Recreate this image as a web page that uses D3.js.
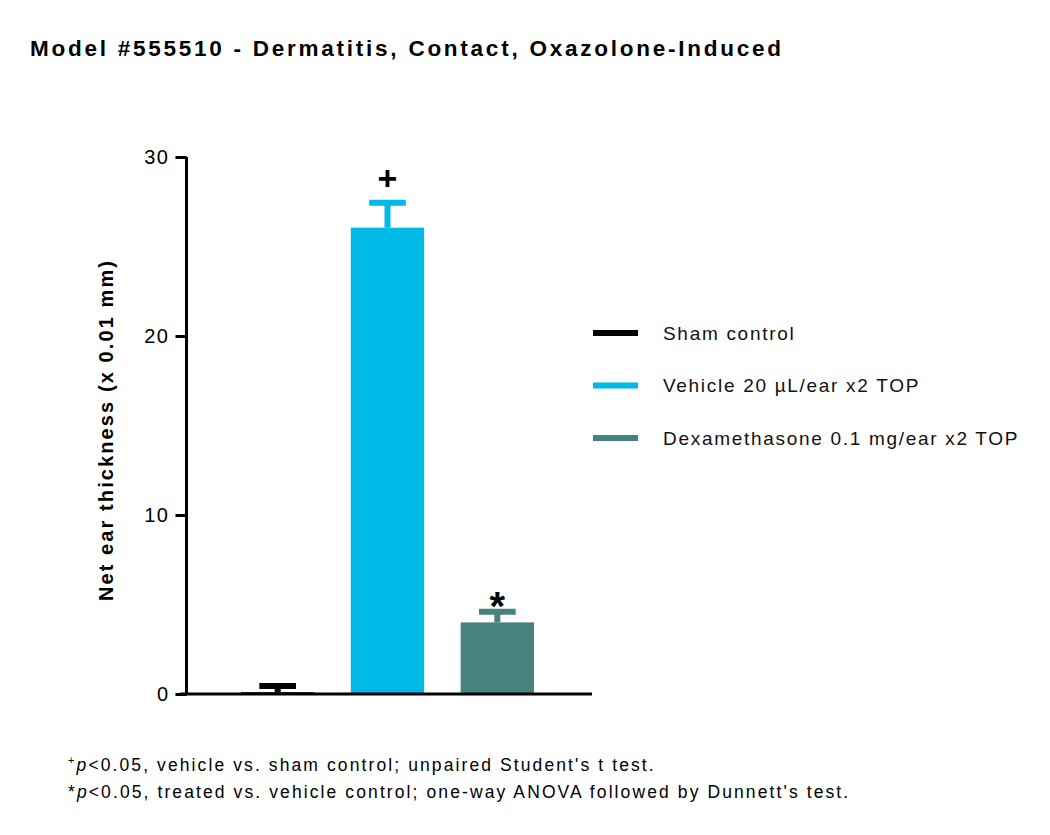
<!DOCTYPE html>
<html><head><meta charset="utf-8">
<script src="https://cdn.jsdelivr.net/npm/d3@7/dist/d3.min.js"></script>
<style>body{margin:0;background:#fff}svg{display:block}</style>
</head><body>
<svg id="chart" width="1050" height="835"></svg>
<script>
const categories = ["Sham control", "Vehicle 20 \u00b5L/ear x2 TOP", "Dexamethasone 0.1 mg/ear x2 TOP"];
const means = [0.1, 26.05, 4.0];
const sems = [0.35, 1.4, 0.6];
const colors = ["#000000", "#00b9e7", "#46827e"];
const markers = ["", "+", "*"];
const yTicks = [0, 10, 20, 30];

const svg = d3.select("#chart");
const font = "'Liberation Sans', Arial, Helvetica, sans-serif";

svg.append("text").attr("x", 30).attr("y", 56)
  .attr("font-family", font).attr("font-weight", "bold").attr("font-size", 22.5)
  .attr("letter-spacing", 2.75)
  .text("Model #555510 - Dermatitis, Contact, Oxazolone-Induced");

const x = d3.scaleBand().domain(categories).range([241, 534]).paddingInner(0.332).paddingOuter(0);
const y = d3.scaleLinear().domain([0, 30]).range([694, 157]);

// bars
svg.selectAll("rect.bar").data(categories).enter().append("rect")
  .attr("x", d => x(d)).attr("width", x.bandwidth())
  .attr("y", (d, i) => y(means[i])).attr("height", (d, i) => y(0) - y(means[i]))
  .attr("fill", (d, i) => colors[i]);

// error bars (up only)
categories.forEach((c, i) => {
  const cx = x(c) + x.bandwidth() / 2;
  const top = y(means[i] + sems[i]);
  svg.append("line").attr("x1", cx).attr("x2", cx).attr("y1", y(means[i])).attr("y2", top)
    .attr("stroke", colors[i]).attr("stroke-width", 6);
  svg.append("line").attr("x1", cx - x.bandwidth() / 4).attr("x2", cx + x.bandwidth() / 4)
    .attr("y1", top).attr("y2", top).attr("stroke", colors[i]).attr("stroke-width", 6);
  if (markers[i] === "+") {
    svg.append("text").attr("x", cx).attr("y", top - 13)
      .attr("text-anchor", "middle").attr("font-family", font).attr("font-weight", "bold")
      .attr("font-size", 34).text(markers[i]);
  } else if (markers[i] === "*") {
    svg.append("text").attr("x", cx).attr("y", top + 8)
      .attr("text-anchor", "middle").attr("font-family", font).attr("font-weight", "bold")
      .attr("font-size", 40).text(markers[i]);
  }
});

// y axis
const yAxis = d3.axisLeft(y).tickValues(yTicks).tickSize(11).tickPadding(6).tickFormat(d3.format("d"));
const gy = svg.append("g").attr("transform", "translate(186.5,0)").call(yAxis);
gy.select(".domain").attr("stroke-width", 3).attr("d", `M0,${y(30)}V${y(0)}`);
gy.selectAll(".tick line").attr("stroke-width", 3);
gy.selectAll(".tick text").attr("font-family", font).attr("font-size", 20).attr("fill", "#000")
  .attr("dy", "0.34em").attr("letter-spacing", 1.5);

// x axis
const gx = svg.append("g").attr("transform", `translate(0,${y(0)})`)
  .call(d3.axisBottom(x).tickSize(0).tickFormat(""));
gx.select(".domain").attr("stroke-width", 3).attr("d", "M180,0H592");

// y label
svg.append("text").attr("transform", "translate(113,430) rotate(-90)")
  .attr("text-anchor", "middle").attr("font-family", font).attr("font-weight", "bold")
  .attr("font-size", 20).attr("letter-spacing", 2.1).text("Net ear thickness (x 0.01 mm)");

// legend
const leg = svg.append("g");
categories.forEach((c, i) => {
  const ly = 333 + i * 52.5;
  leg.append("line").attr("x1", 593).attr("x2", 638).attr("y1", ly).attr("y2", ly)
    .attr("stroke", colors[i]).attr("stroke-width", 6);
  leg.append("text").attr("x", 663).attr("y", ly).attr("dy", "0.35em")
    .attr("font-family", font).attr("font-size", 19).attr("fill", "#111")
    .attr("letter-spacing", 1.7).text(c);
});

// footnotes
const f1 = svg.append("text").attr("x", 68).attr("y", 771).attr("font-family", font)
  .attr("font-size", 17.5).attr("letter-spacing", 2.1);
f1.append("tspan").attr("font-size", 11).attr("dy", -7).text("+");
f1.append("tspan").attr("font-style", "italic").attr("dy", 7).text("p");
f1.append("tspan").text("<0.05, vehicle vs. sham control; unpaired Student's t test.");
const f2 = svg.append("text").attr("x", 68).attr("y", 798).attr("font-family", font)
  .attr("font-size", 17.5).attr("letter-spacing", 2.1);
f2.append("tspan").text("*");
f2.append("tspan").attr("font-style", "italic").text("p");
f2.append("tspan").text("<0.05, treated vs. vehicle control; one-way ANOVA followed by Dunnett's test.");
</script>
</body></html>
